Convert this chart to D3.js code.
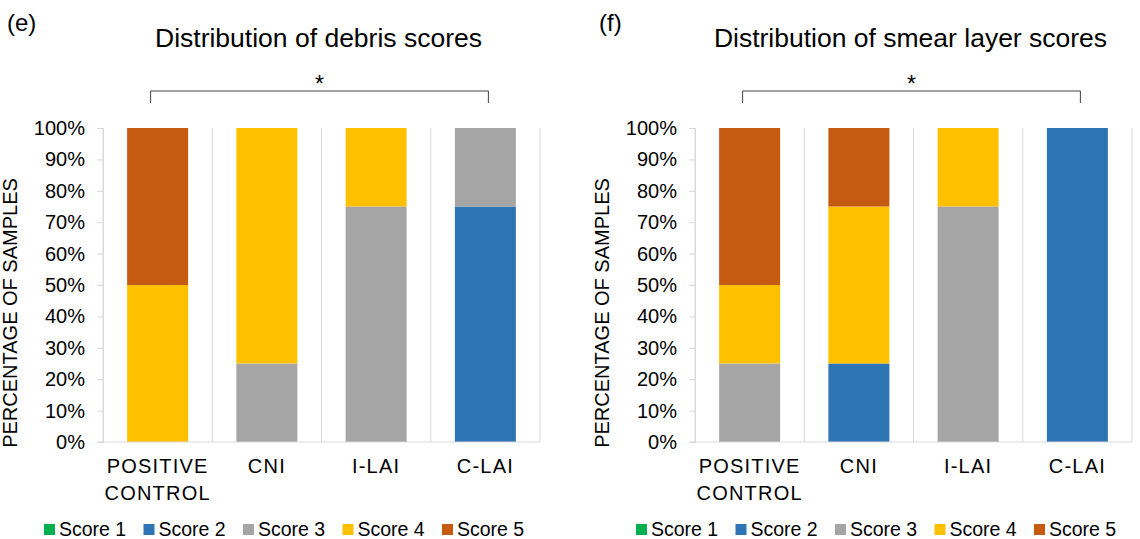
<!DOCTYPE html>
<html>
<head>
<meta charset="utf-8">
<script src="https://cdn.jsdelivr.net/npm/d3@7"></script>
<style>
  body { margin: 0; background: #fff; }
  text { font-family: "Liberation Sans", Arial, sans-serif; fill: #000; }
</style>
</head>
<body>
<script>
// Data
var categories = ["POSITIVE CONTROL", "CNI", "I-LAI", "C-LAI"];
var scores = ["Score 1", "Score 2", "Score 3", "Score 4", "Score 5"];
var colors = ["#00b050", "#2e75b6", "#a5a5a5", "#ffc000", "#c55a11"];
var yTicks = [0, 10, 20, 30, 40, 50, 60, 70, 80, 90, 100];

// percentage per score (Score 1..5) for each category
var debris = [
  [0, 0, 0, 50, 50],
  [0, 0, 25, 75, 0],
  [0, 0, 75, 25, 0],
  [0, 75, 25, 0, 0]
];
var smear = [
  [0, 0, 25, 25, 50],
  [0, 25, 0, 50, 25],
  [0, 0, 75, 25, 0],
  [0, 100, 0, 0, 0]
];

var W = 1140, H = 539;
var svg = d3.select("body").append("svg")
  .attr("width", W)
  .attr("height", H);

function panel(ox, tag, title, values) {
  var left = ox + 103, right = ox + 540,
      top = 128, bottom = 442;

  var x = d3.scaleBand()
    .domain(categories)
    .range([left, right]);
  var y = d3.scaleLinear().domain([0, 100]).range([bottom, top]);

  var g = svg.append("g");

  // panel tag and title
  g.append("text").attr("x", ox + 7).attr("y", 31)
    .style("font-size", "24px").text(tag);
  g.append("text").attr("x", (left + right) / 2 - 3).attr("y", 47)
    .attr("text-anchor", "middle")
    .style("font-size", "26.5px").text(title);

  // vertical grid lines between categories
  var edges = categories.map(function(c) { return x(c); }).concat([right]);
  g.selectAll(".vgrid").data(edges).enter().append("line")
    .attr("x1", function(d) { return d; })
    .attr("x2", function(d) { return d; })
    .attr("y1", top).attr("y2", bottom)
    .attr("stroke", "#d9d9d9").attr("stroke-width", 1);

  // y axis
  var yAxis = d3.axisLeft(y)
    .tickValues(yTicks)
    .tickSize(6)
    .tickPadding(12)
    .tickFormat(function(d) { return d + "%"; });
  var ya = g.append("g")
    .attr("transform", "translate(" + left + ",0)")
    .call(yAxis);
  ya.select(".domain").attr("stroke", "#d9d9d9");
  ya.selectAll(".tick line").attr("stroke", "#d9d9d9");
  ya.selectAll(".tick text")
    .style("font-size", "20px")
    .attr("font-family", null);

  // stacked bars
  var stack = d3.stack().keys(d3.range(5))
    .value(function(d, k) { return d[k]; });
  var series = stack(values);
  var bw = 61;
  series.forEach(function(s, k) {
    g.selectAll(".bar" + k).data(s).enter().append("rect")
      .attr("x", function(d, i) { return x(categories[i]) + (x.bandwidth() - bw) / 2; })
      .attr("width", bw)
      .attr("y", function(d) { return y(d[1]); })
      .attr("height", function(d) { return y(d[0]) - y(d[1]); })
      .attr("fill", colors[k]);
  });

  // bottom axis line
  g.append("line")
    .attr("x1", left - 6).attr("x2", right)
    .attr("y1", bottom).attr("y2", bottom)
    .attr("stroke", "#d9d9d9");

  // category labels
  categories.forEach(function(c) {
    var lines = c.split(" ");
    var t = g.append("text")
      .attr("x", x(c) + x.bandwidth() / 2)
      .attr("y", 473)
      .attr("text-anchor", "middle")
      .style("font-size", "20px")
      .style("letter-spacing", "1.2px");
    lines.forEach(function(l, i) {
      t.append("tspan")
        .attr("x", x(c) + x.bandwidth() / 2)
        .attr("dy", i ? 27 : 0)
        .text(l);
    });
  });

  // y axis title
  g.append("text")
    .attr("transform", "translate(" + (ox + 17) + ",313) rotate(-90)")
    .attr("text-anchor", "middle")
    .style("font-size", "20px")
    .text("PERCENTAGE OF SAMPLES");

  // significance bracket
  var bx1 = x(categories[0]) + x.bandwidth() / 2 - 7,
      bx2 = x(categories[3]) + x.bandwidth() / 2 + 3;
  g.append("path")
    .attr("d", "M" + bx1 + ",103V91H" + bx2 + "V103")
    .attr("fill", "none").attr("stroke", "#404040").attr("stroke-width", 1);
  g.append("text")
    .attr("x", (bx1 + bx2) / 2).attr("y", 92)
    .attr("text-anchor", "middle")
    .style("font-size", "23px").text("*");

  // legend
  var lg = g.selectAll(".leg").data(scores).enter().append("g")
    .attr("transform", function(d, i) { return "translate(" + (ox + 44 + i * 99.5) + ",524)"; });
  lg.append("rect").attr("width", 11).attr("height", 11)
    .attr("fill", function(d, i) { return colors[i]; });
  lg.append("text").attr("x", 15).attr("y", 12)
    .style("font-size", "19.5px").text(function(d) { return d; });
}

panel(0, "(e)", "Distribution of debris scores", debris);
panel(592, "(f)", "Distribution of smear layer scores", smear);
</script>
</body>
</html>
